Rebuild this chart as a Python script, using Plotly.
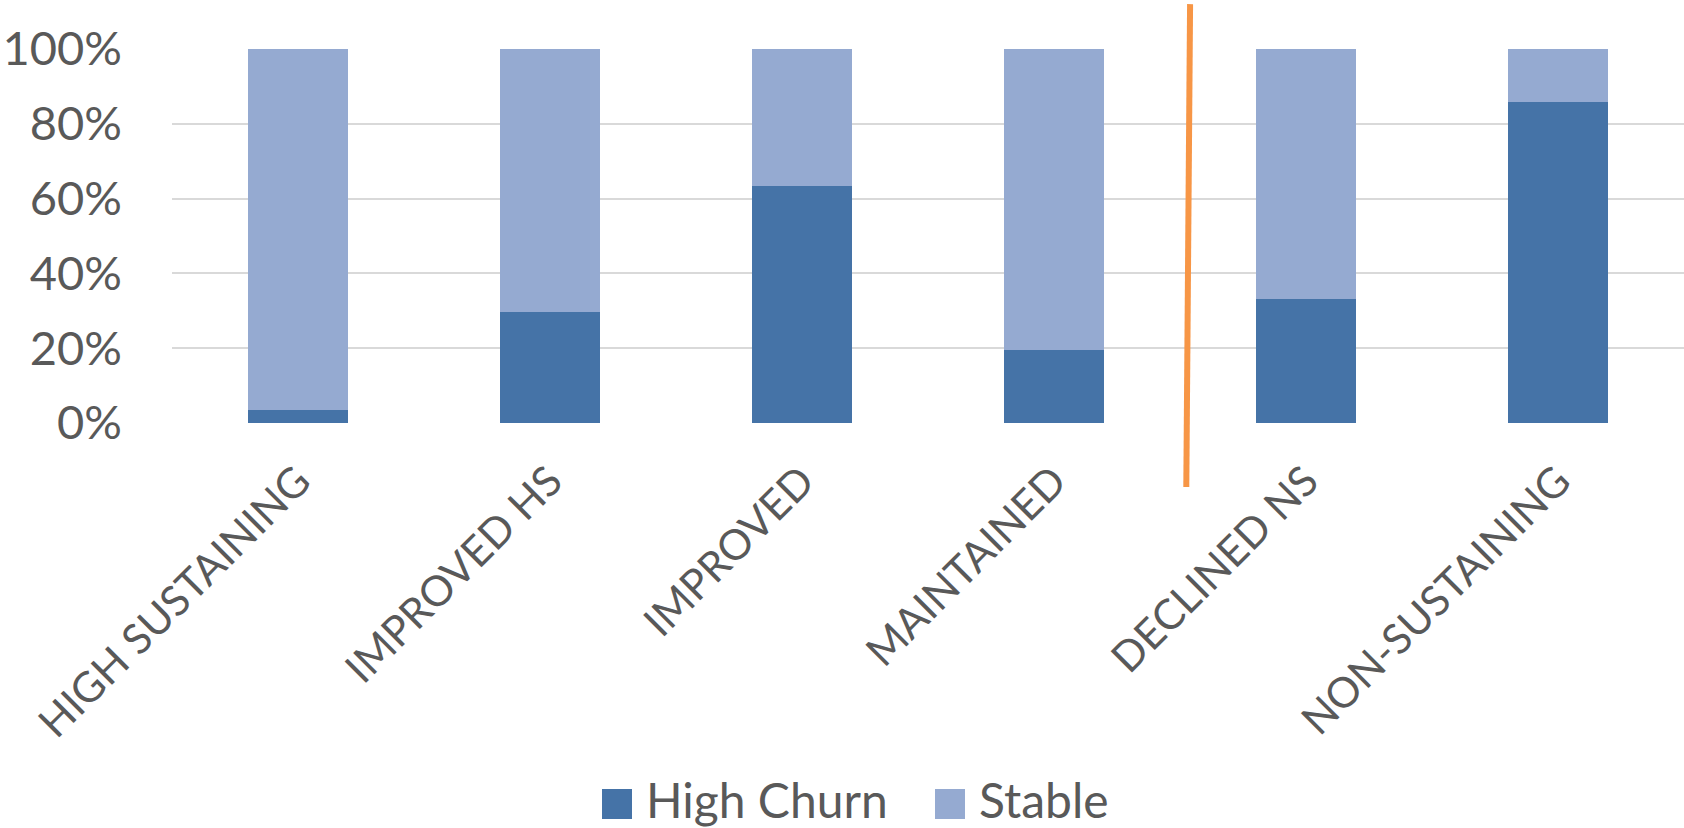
import plotly.graph_objects as go

categories = ["HIGH SUSTAINING", "IMPROVED HS", "IMPROVED", "MAINTAINED", "DECLINED NS", "NON-SUSTAINING"]
high_churn = [0.034, 0.297, 0.634, 0.195, 0.331, 0.858]
stable = [1 - v for v in high_churn]
y_ticks = [0, 0.2, 0.4, 0.6, 0.8, 1.0]
y_tick_labels = ["0%", "20%", "40%", "60%", "80%", "100%"]
series_names = ["High Churn", "Stable"]
separator_after = 3  # line drawn between MAINTAINED and DECLINED NS

DARK = "#4573A7"
LIGHT = "#95AAD1"
GREY = "#595959"
ORANGE = "#F79646"
FONT = "Lato, Carlito, Calibri, sans-serif"

W, H = 1684, 828
L, R, T, B = 172, 0, 49, 405
PW, PH = W - L - R, H - T - B


def px_to_paper(px, py):
    return (px - L) / PW, (H - B - py) / PH


fig = go.Figure()
fig.add_trace(go.Bar(x=categories, y=high_churn, name=series_names[0],
                     marker=dict(color=DARK, line=dict(width=0))))
fig.add_trace(go.Bar(x=categories, y=stable, name=series_names[1],
                     marker=dict(color=LIGHT, line=dict(width=0))))

n = len(categories)
sep = separator_after + 0.5 + 0.04
fig.add_shape(type="line", xref="paper", yref="paper",
              x0=(sep + 0.5) / n, y0=1.12, x1=(sep - 0.015 + 0.5) / n, y1=-0.171,
              line=dict(color=ORANGE, width=6))

# manual legend (large squares like the original)
legend_items = [(series_names[0], DARK, 602, 645), (series_names[1], LIGHT, 935, 978)]
for name, color, sq_x, tx_x in legend_items:
    x0, y0 = px_to_paper(sq_x, 819)
    x1, y1 = px_to_paper(sq_x + 30, 789)
    fig.add_shape(type="rect", xref="paper", yref="paper", x0=x0, y0=y0, x1=x1, y1=y1,
                  fillcolor=color, line=dict(width=0))
    tx, ty = px_to_paper(tx_x, 799)
    fig.add_annotation(text=name, xref="paper", yref="paper", x=tx, y=ty,
                       xanchor="left", yanchor="middle", showarrow=False, borderpad=0,
                       font=dict(size=48, color=GREY, family=FONT))

fig.update_layout(
    width=W, height=H,
    margin=dict(l=L, r=R, t=T, b=B),
    barmode="stack", bargap=0.603,
    plot_bgcolor="white", paper_bgcolor="white",
    font=dict(family=FONT, color=GREY, size=45),
    xaxis=dict(range=[-0.5, n - 0.5], tickangle=-45, showgrid=False, ticks="",
               showline=False, zeroline=False, tickfont=dict(size=42, color=GREY),
               ticklabelstandoff=24, automargin=False),
    yaxis=dict(range=[0, 1], tickvals=y_ticks, ticktext=y_tick_labels, showgrid=True,
               gridcolor="#D9D9D9", gridwidth=2, zeroline=False, ticks="",
               tickfont=dict(size=47, color=GREY), ticklabelstandoff=49, automargin=False),
    showlegend=False,
)

fig.write_html("out.html", config={"displayModeBar": False},
               post_script="document.body.style.margin='0';")
